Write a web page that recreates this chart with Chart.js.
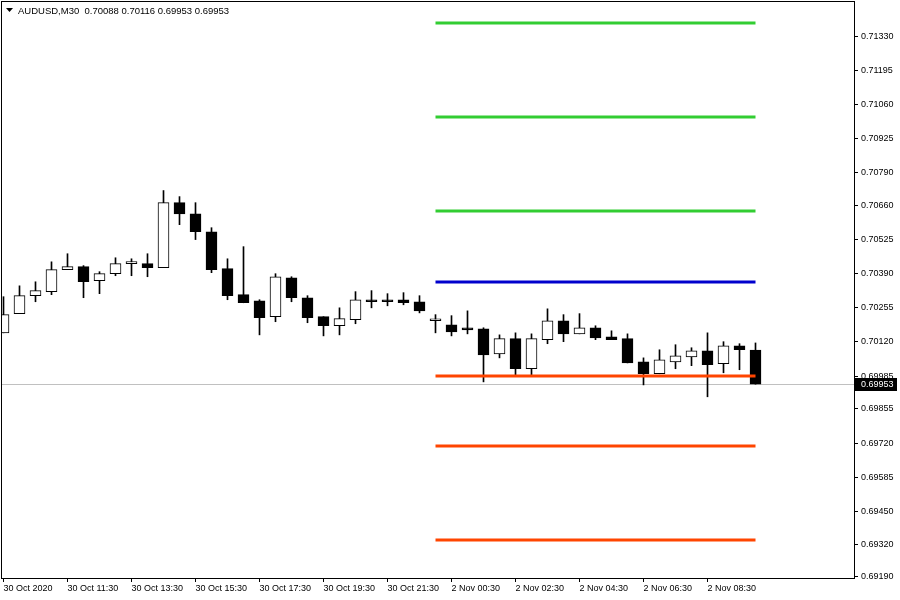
<!DOCTYPE html>
<html>
<head>
<meta charset="utf-8">
<script src="https://cdn.jsdelivr.net/npm/chart.js@4.4.1/dist/chart.umd.min.js"></script>
<style>
  html, body { margin: 0; padding: 0; background: #ffffff; }
  canvas { display: block; }
</style>
</head>
<body>
<canvas id="chart" width="900" height="600"></canvas>
<script>
var symbolTitle = "AUDUSD,M30  0.70088 0.70116 0.69953 0.69953";

// bar time labels, every 4th bar (M30)
var timeLabels = ["30 Oct 2020", "30 Oct 11:30", "30 Oct 13:30", "30 Oct 15:30", "30 Oct 17:30",
    "30 Oct 19:30", "30 Oct 21:30", "2 Nov 00:30", "2 Nov 02:30", "2 Nov 04:30", "2 Nov 06:30", "2 Nov 08:30"];

var opens = [0.70156, 0.70232, 0.70303, 0.70319, 0.70406, 0.70418, 0.70362, 0.70390, 0.70430, 0.70430,
    0.70414, 0.70671, 0.70627, 0.70556, 0.70410, 0.70307, 0.70283, 0.70220, 0.70374, 0.70295,
    0.70220, 0.70184, 0.70208, 0.70287, 0.70287, 0.70287, 0.70279, 0.70204, 0.70188, 0.70176,
    0.70172, 0.70073, 0.70133, 0.70014, 0.70129, 0.70204, 0.70152, 0.70176, 0.70140, 0.70133,
    0.70041, 0.69994, 0.70041, 0.70061, 0.70085, 0.70034, 0.70105, 0.70088];
var highs = [0.70299, 0.70342, 0.70358, 0.70437, 0.70469, 0.70422, 0.70398, 0.70453, 0.70449, 0.70469,
    0.70719, 0.70695, 0.70671, 0.70572, 0.70449, 0.70497, 0.70287, 0.70390, 0.70378, 0.70303,
    0.70220, 0.70255, 0.70319, 0.70323, 0.70311, 0.70315, 0.70303, 0.70228, 0.70224, 0.70243,
    0.70176, 0.70148, 0.70156, 0.70152, 0.70251, 0.70228, 0.70232, 0.70184, 0.70164, 0.70152,
    0.70057, 0.70089, 0.70109, 0.70097, 0.70156, 0.70121, 0.70113, 0.70116];
var lows = [0.70156, 0.70232, 0.70279, 0.70307, 0.70406, 0.70295, 0.70311, 0.70382, 0.70382, 0.70378,
    0.70414, 0.70584, 0.70525, 0.70394, 0.70287, 0.70275, 0.70148, 0.70200, 0.70279, 0.70196,
    0.70144, 0.70148, 0.70192, 0.70255, 0.70263, 0.70267, 0.70235, 0.70156, 0.70144, 0.70152,
    0.69962, 0.70057, 0.69986, 0.69986, 0.70113, 0.70121, 0.70152, 0.70129, 0.70129, 0.70037,
    0.69950, 0.69994, 0.70014, 0.70026, 0.69903, 0.69998, 0.70010, 0.69953];
var closes = [0.70228, 0.70303, 0.70323, 0.70406, 0.70418, 0.70358, 0.70390, 0.70430, 0.70431, 0.70414,
    0.70671, 0.70627, 0.70556, 0.70406, 0.70303, 0.70275, 0.70216, 0.70378, 0.70295, 0.70216,
    0.70184, 0.70212, 0.70287, 0.70279, 0.70279, 0.70275, 0.70243, 0.70204, 0.70160, 0.70168,
    0.70069, 0.70133, 0.70014, 0.70133, 0.70204, 0.70152, 0.70176, 0.70136, 0.70129, 0.70037,
    0.69994, 0.70049, 0.70065, 0.70085, 0.70030, 0.70105, 0.70089, 0.69953];

// pivot levels: R3, R2, R1, P, S1, S2, S3
var pivotNames = ["R3", "R2", "R1", "P", "S1", "S2", "S3"];
var pivotLevels = [0.71382, 0.71010, 0.70638, 0.70357, 0.69985, 0.69708, 0.69336];
var pivotColors = ["#32CD32", "#32CD32", "#32CD32", "#0000CD", "#FF4500", "#FF4500", "#FF4500"];
var pivotFrom = 27;
var pivotTo = 47;

var priceTicks = [0.69190, 0.69320, 0.69450, 0.69585, 0.69720, 0.69855, 0.69985, 0.70120, 0.70255,
    0.70390, 0.70525, 0.70660, 0.70790, 0.70925, 0.71060, 0.71195, 0.71330];

var FONT = "'Liberation Sans', sans-serif";

var bodies = [];
var wicks = [];
for (var i = 0; i < opens.length; i++) {
    bodies.push({ x: i, y: [opens[i], closes[i]] });
    wicks.push({ x: i, y: [lows[i], highs[i]] });
}

var datasets = [
    {
        type: "bar",
        label: "wicks",
        data: wicks,
        backgroundColor: "#000000",
        borderWidth: 0,
        barThickness: 1,
        grouped: false,
        order: 2,
    },
    {
        type: "bar",
        label: "bodies",
        data: bodies,
        backgroundColor: function (ctx) {
            var i = ctx.dataIndex;
            return closes[i] >= opens[i] ? "#ffffff" : "#000000";
        },
        borderColor: "#000000",
        borderWidth: 1,
        borderSkipped: false,
        barThickness: 11,
        minBarLength: 2,
        grouped: false,
        order: 1,
    },
];
for (var k = 0; k < pivotLevels.length; k++) {
    datasets.push({
        type: "line",
        label: pivotNames[k],
        data: [{ x: pivotFrom, y: pivotLevels[k] }, { x: pivotTo, y: pivotLevels[k] }],
        borderColor: pivotColors[k],
        borderWidth: 3,
        pointRadius: 0,
        order: 0,
    });
}

var tickIdx = timeLabels.map(function (_, j) { return j * 4; });

// current price line, price box on the axis and the symbol title
var terminalDecor = {
    id: "terminalDecor",
    beforeDatasetsDraw: function (chart) {
        var c = chart.ctx, a = chart.chartArea;
        var y = Math.round(chart.scales.y.getPixelForValue(closes[closes.length - 1])) + 0.5;
        c.save();
        c.strokeStyle = "#C0C0C0";
        c.lineWidth = 1;
        c.beginPath();
        c.moveTo(a.left, y);
        c.lineTo(a.right, y);
        c.stroke();
        c.restore();
    },
    afterDraw: function (chart) {
        var c = chart.ctx, a = chart.chartArea;
        var last = closes[closes.length - 1];
        var y = Math.round(chart.scales.y.getPixelForValue(last));
        c.save();
        c.fillStyle = "#000000";
        c.fillRect(a.right + 1, y - 6, 42, 13);
        c.fillStyle = "#ffffff";
        c.font = "9px " + FONT;
        c.textBaseline = "middle";
        c.textAlign = "left";
        c.fillText(last.toFixed(5), a.right + 7, y + 1);
        // frame
        c.strokeStyle = "#000000";
        c.lineWidth = 1;
        c.strokeRect(a.left - 0.5, a.top - 0.5, a.right - a.left + 1, a.bottom - a.top + 1);
        // title
        c.fillStyle = "#000000";
        c.beginPath();
        c.moveTo(6, 8);
        c.lineTo(13, 8);
        c.lineTo(9.5, 12);
        c.closePath();
        c.fill();
        c.font = "9.5px " + FONT;
        c.textBaseline = "middle";
        c.fillText(symbolTitle, 18, 11);
        c.restore();
    },
};

new Chart(document.getElementById("chart").getContext("2d"), {
    data: { datasets: datasets },
    options: {
        responsive: false,
        animation: false,
        events: [],
        layout: { padding: { left: 2, top: 2, right: 0, bottom: 0 } },
        plugins: {
            legend: { display: false },
            tooltip: { enabled: false },
        },
        scales: {
            x: {
                type: "linear",
                offset: false,
                min: -0.09375,
                max: 53.15625,
                afterBuildTicks: function (scale) {
                    scale.ticks = tickIdx.map(function (v) { return { value: v }; });
                },
                afterFit: function (scale) {
                    scale.height = 22;
                    scale.paddingLeft = 0;
                    scale.paddingRight = 0;
                },
                grid: { display: true, drawOnChartArea: false, drawTicks: true, tickLength: 4, color: "#000000", offset: false },
                border: { display: true, color: "#000000" },
                ticks: {
                    autoSkip: false,
                    maxRotation: 0,
                    align: "start",
                    padding: 1,
                    color: "#000000",
                    font: { family: FONT, size: 9 },
                    callback: function (v) {
                        var j = tickIdx.indexOf(v);
                        return j >= 0 ? timeLabels[j] : "";
                    },
                },
            },
            y: {
                position: "right",
                min: 0.69186,
                max: 0.71465,
                afterBuildTicks: function (scale) {
                    scale.ticks = priceTicks.map(function (v) { return { value: v }; });
                },
                afterFit: function (scale) {
                    scale.width = 46;
                    scale.paddingTop = 0;
                    scale.paddingBottom = 0;
                },
                grid: { display: true, drawOnChartArea: false, drawTicks: true, tickLength: 4, color: "#000000" },
                border: { display: true, color: "#000000" },
                ticks: {
                    padding: 3,
                    color: "#000000",
                    font: { family: FONT, size: 9 },
                    callback: function (v) { return Number(v).toFixed(5); },
                },
            },
        },
    },
    plugins: [terminalDecor],
});
</script>
</body>
</html>
